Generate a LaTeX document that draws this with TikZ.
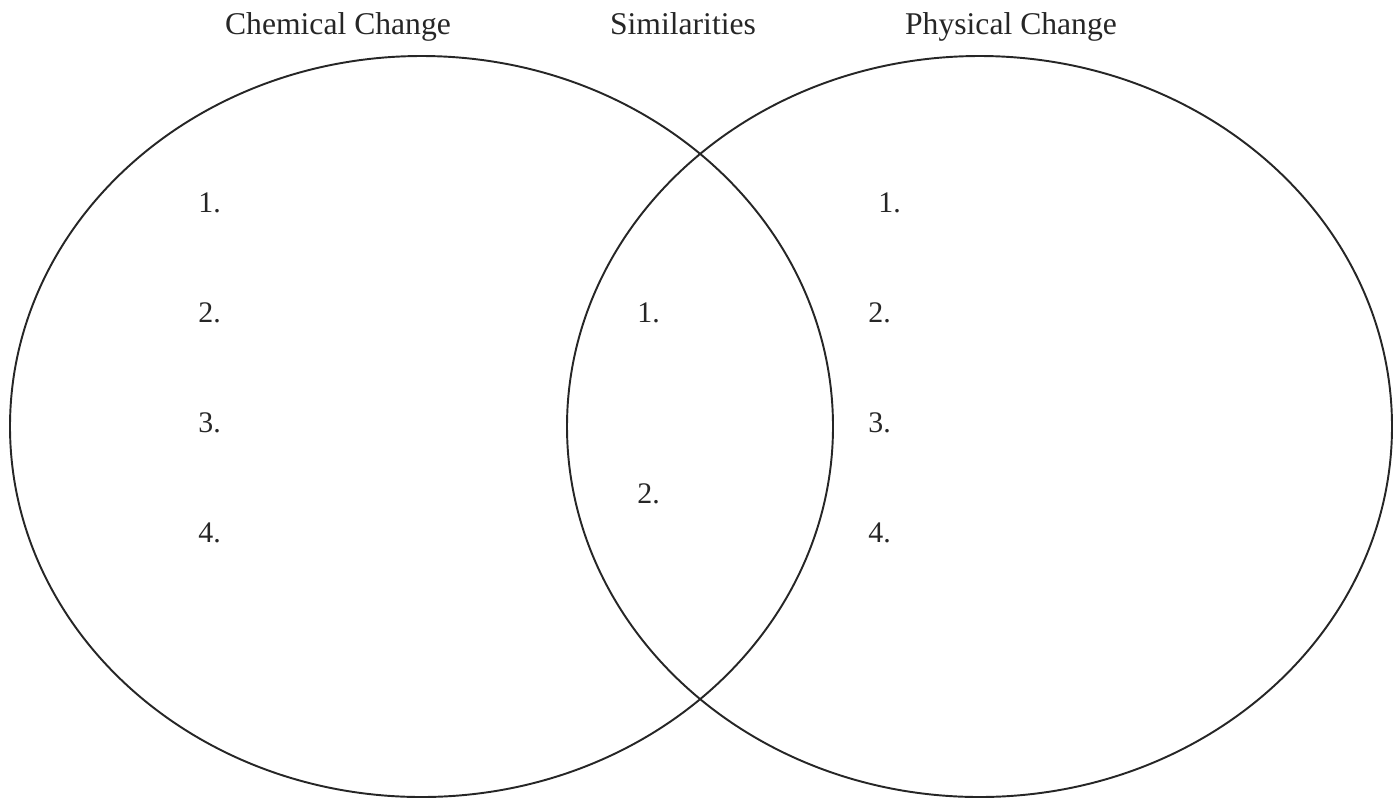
\documentclass[tikz,border=0pt]{standalone}
\usepackage{fontspec}
\setmainfont{Liberation Serif}
\usepackage{tikz}
\usetikzlibrary{positioning,calc}

\tikzset{
  venn/.style={line width=1.1pt, black!85},
  heading/.style={font=\fontsize{18}{21}\selectfont, anchor=base, inner sep=0pt, text=black!85},
  item/.style={font=\fontsize{17}{20}\selectfont, anchor=base west, inner sep=0pt, text=black!85}
}

\begin{document}
\begin{tikzpicture}
\useasboundingbox (0,0) rectangle (28,-15.98);
% Circles
\coordinate (chem) at (8.43,-8.53);
\coordinate (phys) at (19.59,-8.53);
\draw[venn] (chem) ellipse (8.23 and 7.41);
\draw[venn] (phys) ellipse (8.25 and 7.41);
% Headings
\node[heading] (chemtitle) at (6.76,-0.68) {Chemical Change};
\node[heading] (simtitle) at (13.66,-0.68) {Similarities};
\node[heading] (phystitle) at (20.22,-0.68) {Physical Change};
% Left list
\foreach \n/\y in {1/-4.24,2/-6.44,3/-8.64,4/-10.84} {
  \node[item] (c\n) at (3.96,\y) {\n.};
}
% Middle list
\foreach \n/\y in {1/-6.44,2/-10.06} {
  \node[item] (s\n) at (12.74,\y) {\n.};
}
% Right list
\foreach \n/\x/\y in {1/17.56/-4.24,2/17.36/-6.44,3/17.36/-8.64,4/17.36/-10.84} {
  \node[item] (p\n) at (\x,\y) {\n.};
}
\end{tikzpicture}
\end{document}
